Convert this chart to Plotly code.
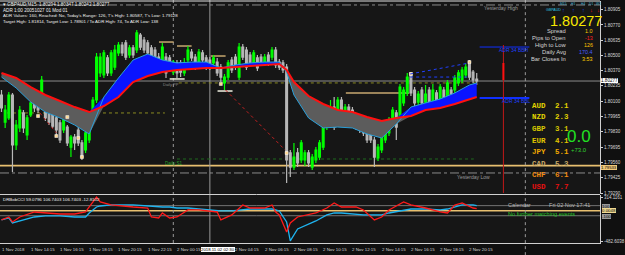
import plotly.graph_objects as go

# ---------------- data ----------------
symbol = "GBPAUD,M15"
bar_count = 131
open_ = [1.80154, 1.79916, 1.79952, 1.80154, 1.79714, 1.79864, 1.79996, 1.79802, 1.79978, 1.80136,
         1.80110, 1.80048, 1.80084, 1.80040, 1.80004, 1.79952, 1.79908, 1.79846, 1.79872, 1.79696,
         1.79784, 1.79846, 1.79732, 1.79670, 1.79758, 1.79960, 1.80110, 1.80348, 1.80330, 1.80480,
         1.80348, 1.80400, 1.80524, 1.80594, 1.80612, 1.80506, 1.80568, 1.80550, 1.80682, 1.80638,
         1.80612, 1.80568, 1.80550, 1.80488, 1.80436, 1.80488, 1.80480, 1.80356, 1.80436, 1.80436,
         1.80348, 1.80462, 1.80532, 1.80488, 1.80436, 1.80524, 1.80480, 1.80462, 1.80436, 1.80444,
         1.80400, 1.80260, 1.80312, 1.80462, 1.80488, 1.80312, 1.80576, 1.80550, 1.80506, 1.80436,
         1.80480, 1.80488, 1.80436, 1.80506, 1.80488, 1.80550, 1.80444, 1.80436, 1.80400, 1.79644,
         1.79520, 1.79644, 1.79582, 1.79582, 1.79644, 1.79520, 1.79582, 1.79608, 1.79696, 1.79872,
         1.79908, 1.80048, 1.79960, 1.80110, 1.79996, 1.80048, 1.80022, 1.79960, 1.79908, 1.79872,
         1.79872, 1.79846, 1.79758, 1.79600, 1.79670, 1.79758, 1.79820, 1.79908, 1.79996, 1.79960,
         1.80084, 1.80172, 1.80348, 1.80198, 1.80092, 1.80198, 1.80092, 1.80198, 1.80092, 1.80172,
         1.80110, 1.80198, 1.80136, 1.80198, 1.80198, 1.80260, 1.80286, 1.80330, 1.80444, 1.80356,
         1.80294]
high_ = [1.80198, 1.80066, 1.80181, 1.80172, 1.79934, 1.80057, 1.80022, 1.79978, 1.80110, 1.80154,
         1.80136, 1.80321, 1.80110, 1.80066, 1.80040, 1.79978, 1.79934, 1.79987, 1.79890, 1.79802,
         1.79811, 1.79872, 1.79758, 1.79846, 1.79960, 1.80136, 1.80524, 1.80524, 1.80550, 1.80506,
         1.80550, 1.80594, 1.80620, 1.80620, 1.80638, 1.80594, 1.80594, 1.80726, 1.80700, 1.80664,
         1.80638, 1.80594, 1.80576, 1.80524, 1.80612, 1.80524, 1.80506, 1.80462, 1.80462, 1.80462,
         1.80480, 1.80585, 1.80559, 1.80515, 1.80559, 1.80550, 1.80506, 1.80488, 1.80506, 1.80480,
         1.80427, 1.80339, 1.80462, 1.80488, 1.80515, 1.80612, 1.80603, 1.80576, 1.80532, 1.80550,
         1.80506, 1.80515, 1.80515, 1.80532, 1.80576, 1.80576, 1.80471, 1.80462, 1.80427, 1.79670,
         1.79732, 1.79688, 1.79758, 1.79670, 1.79670, 1.79635, 1.79696, 1.79758, 1.79899, 1.80022,
         1.80110, 1.80136, 1.80136, 1.80136, 1.80075, 1.80075, 1.80048, 1.79987, 1.79934, 1.79899,
         1.79899, 1.79872, 1.79784, 1.79723, 1.79811, 1.79872, 1.79960, 1.80048, 1.80022, 1.80251,
         1.80224, 1.80348, 1.80356, 1.80224, 1.80189, 1.80224, 1.80242, 1.80224, 1.80251, 1.80198,
         1.80251, 1.80224, 1.80286, 1.80224, 1.80330, 1.80374, 1.80400, 1.80427, 1.80462, 1.80374,
         1.80347]
low_ = [1.80004, 1.79864, 1.79934, 1.79476, 1.79670, 1.79828, 1.79820, 1.79758, 1.79960, 1.80004,
        1.79996, 1.80022, 1.79925, 1.79890, 1.79864, 1.79784, 1.79732, 1.79820, 1.79705, 1.79608,
        1.79670, 1.79705, 1.79582, 1.79644, 1.79732, 1.79934, 1.80084, 1.80312, 1.80304, 1.80321,
        1.80321, 1.80374, 1.80497, 1.80497, 1.80462, 1.80480, 1.80480, 1.80524, 1.80550, 1.80524,
        1.80497, 1.80462, 1.80444, 1.80356, 1.80409, 1.80304, 1.80356, 1.80330, 1.80304, 1.80312,
        1.80321, 1.80436, 1.80453, 1.80374, 1.80409, 1.80436, 1.80374, 1.80374, 1.80409, 1.80321,
        1.80268, 1.80198, 1.80286, 1.80348, 1.80374, 1.80286, 1.80462, 1.80374, 1.80409, 1.80409,
        1.80365, 1.80409, 1.80409, 1.80409, 1.80462, 1.80392, 1.80374, 1.80348, 1.79380, 1.79432,
        1.79494, 1.79520, 1.79556, 1.79529, 1.79520, 1.79494, 1.79556, 1.79582, 1.79670, 1.79846,
        1.79881, 1.79846, 1.79934, 1.79881, 1.79969, 1.79934, 1.79908, 1.79846, 1.79820, 1.79793,
        1.79732, 1.79732, 1.79520, 1.79573, 1.79644, 1.79732, 1.79793, 1.79881, 1.79758, 1.79934,
        1.80057, 1.80145, 1.80145, 1.80057, 1.80066, 1.80057, 1.80066, 1.80057, 1.80066, 1.80066,
        1.80084, 1.80084, 1.80110, 1.80110, 1.80172, 1.80233, 1.80260, 1.80304, 1.80286, 1.80260,
        1.80242]
close_ = [1.80040, 1.80022, 1.80154, 1.79714, 1.79890, 1.80022, 1.79864, 1.79952, 1.80084, 1.80040,
          1.80022, 1.80286, 1.79952, 1.79916, 1.79881, 1.79846, 1.79758, 1.79960, 1.79732, 1.79784,
          1.79732, 1.79732, 1.79608, 1.79820, 1.79934, 1.80110, 1.80488, 1.80488, 1.80524, 1.80348,
          1.80524, 1.80550, 1.80594, 1.80524, 1.80488, 1.80568, 1.80506, 1.80700, 1.80576, 1.80550,
          1.80524, 1.80488, 1.80480, 1.80400, 1.80576, 1.80348, 1.80392, 1.80444, 1.80348, 1.80356,
          1.80436, 1.80550, 1.80480, 1.80400, 1.80532, 1.80462, 1.80400, 1.80400, 1.80480, 1.80348,
          1.80312, 1.80312, 1.80436, 1.80374, 1.80400, 1.80576, 1.80488, 1.80400, 1.80436, 1.80524,
          1.80392, 1.80436, 1.80488, 1.80436, 1.80550, 1.80418, 1.80400, 1.80374, 1.79582, 1.79520,
          1.79608, 1.79556, 1.79732, 1.79644, 1.79556, 1.79608, 1.79670, 1.79732, 1.79872, 1.79996,
          1.79996, 1.79872, 1.80110, 1.79908, 1.80048, 1.79960, 1.79934, 1.79872, 1.79846, 1.79820,
          1.79758, 1.79758, 1.79608, 1.79696, 1.79784, 1.79846, 1.79934, 1.80022, 1.79872, 1.80224,
          1.80198, 1.80312, 1.80172, 1.80084, 1.80163, 1.80084, 1.80163, 1.80084, 1.80198, 1.80092,
          1.80224, 1.80110, 1.80260, 1.80136, 1.80304, 1.80348, 1.80374, 1.80400, 1.80312, 1.80286,
          1.80277]

ema_bars = [0, 4, 8, 12, 16, 20, 24, 28, 32, 36, 40, 44, 48, 52, 56, 60, 64, 68, 72, 76, 78,
            80, 84, 88, 92, 96, 100, 104, 108, 112, 116, 120, 124, 128, 130]
ema_fast = [1.80312, 1.80216, 1.80092, 1.80004, 1.79952, 1.79890, 1.79811, 1.80136, 1.80304, 1.80462,
            1.80515, 1.80462, 1.80436, 1.80444, 1.80444, 1.80392, 1.80418, 1.80436, 1.80444, 1.80444,
            1.80356, 1.80154, 1.79952, 1.79864, 1.79872, 1.79864, 1.79811, 1.79776, 1.79899, 1.80048,
            1.80084, 1.80119, 1.80172, 1.80242, 1.80260]
ema_slow = [1.80348, 1.80304, 1.80224, 1.80154, 1.80101, 1.80048, 1.80004, 1.80057, 1.80136, 1.80268,
            1.80321, 1.80356, 1.80374, 1.80383, 1.80392, 1.80392, 1.80400, 1.80409, 1.80418, 1.80427,
            1.80374, 1.80268, 1.80145, 1.80075, 1.80022, 1.80004, 1.79960, 1.79925, 1.79952, 1.79969,
            1.80022, 1.80040, 1.80075, 1.80119, 1.80136]

cci_bars = [0, 2, 3, 5, 9, 12, 16, 20, 23, 24, 26, 27, 30, 36, 40, 41, 43, 44, 46, 48, 51, 54, 59, 60, 63,
            66, 68, 72, 74, 75, 76, 78, 79, 81, 86, 89, 91, 93, 97, 99, 102, 104, 106, 110, 112, 116,
            120, 122, 124, 126, 129, 130]
cci_red = [-95, -42, -131, -42, 47, 29, 11, 11, 47, 136, 314, 225, 172, 136, 118, -42, -60, 29, -60, -42,
           83, 83, 47, -95, -6, 172, 118, 118, 172, 47, -6, -309, -149, -42, 29, 118, 207, 136, 136, 83,
           -95, -42, 83, 225, 172, 118, 47, 29, 172, 207, 118, 107]
cci_cyan = [-95, -60, -149, -113, -42, -24, -24, -42, -42, 29, 136, 154, 172, 172, 154, 154, 136, 136, 136, 118,
            118, 100, 65, 65, 65, 83, 100, 100, 100, 83, 65, -131, -469, -256, -113, -6, 29, 29, 11, -6,
            -6, -6, 29, 83, 100, 100, 83, 100, 136, 172, 172, 160]
cci_levels = [160, -20]
cci_zero_level = 70
cci_axis_vals = [314.1161, -482.6038]

price_ticks = [1.80905, 1.80770, 1.80635, 1.80500, 1.80370, 1.80235, 1.80100, 1.79965,
               1.79830, 1.79695, 1.79560, 1.79425, 1.79290]

time_tick_bars = [0, 8, 16, 24, 32, 40, 48, 64, 72, 80, 88, 96, 104, 112, 120, 128]
time_tick_labels = ["1 Nov 2018", "1 Nov 14:15", "1 Nov 16:15", "1 Nov 18:15", "1 Nov 20:15",
                    "1 Nov 22:15", "2 Nov 00:15", "2 Nov 04:15", "2 Nov 06:15", "2 Nov 08:15",
                    "2 Nov 10:15", "2 Nov 12:15", "2 Nov 14:15", "2 Nov 16:15", "2 Nov 18:15",
                    "2 Nov 20:15"]
crosshair_bar = 57
crosshair_label = "2018.11.02 02:30"
day_sep_bar = 47
panel_sep_bar = 143.3

gold_level = 1.79533
yesterday_high = 1.80946
yesterday_low = 1.79468
olive_level = 1.79996
daily_pp = 1.80260
daily_s1 = 1.79591
adr_high_level = 1.80576
adr_low_level = 1.80128

tan_seg_start = [43.1, 48.0, 57.2, 94.2]
tan_seg_end = [47.1, 52.0, 61.3, 111.5]
tan_seg_level = [1.80620, 1.80585, 1.80497, 1.80172]
white_seg_start = [46.0, 59.1]
white_seg_end = [50.1, 63.2]
white_seg_level = [1.80295, 1.80189]

marker_bars = [18, 15, 21, 22, 10, 60, 78, 112, 128]
marker_prices = [1.79960, 1.79793, 1.79776, 1.79608, 1.79969, 1.80251, 1.79644, 1.80339, 1.80444]

currencies = ["AUD", "NZD", "GBP", "EUR", "JPY", "CAD", "CHF", "USD"]
strength = [2.1, 2.3, 3.1, 4.1, 5.1, 5.3, 6.1, 7.7]

info_labels = ["Spread", "Pips to Open", "High to Low", "Daily Avg", "Bar Closes In"]
info_values = ["1.0", "-13", "126", "170.4", "3:53"]

# ---------------- figure ----------------
W, H = 625, 255
PW, PH = 604, 243          # plot area in px
FONT = "Liberation Sans"


def px(x):
    return x / PW


def py(y):
    return (PH - y) / PH


bars = list(range(bar_count))
fig = go.Figure()

upper = [max(f, s) for f, s in zip(ema_fast, ema_slow)]
lower = [min(f, s) for f, s in zip(ema_fast, ema_slow)]
fig.add_trace(go.Scatter(x=ema_bars, y=ema_slow, mode="lines", line=dict(width=0), hoverinfo="skip"))
fig.add_trace(go.Scatter(x=ema_bars, y=upper, mode="lines", line=dict(width=0), fill="tonexty",
                         fillcolor="#0a14ff", hoverinfo="skip"))
fig.add_trace(go.Scatter(x=ema_bars, y=ema_slow, mode="lines", line=dict(width=0), hoverinfo="skip"))
fig.add_trace(go.Scatter(x=ema_bars, y=lower, mode="lines", line=dict(width=0), fill="tonexty",
                         fillcolor="#5c5c5c", hoverinfo="skip"))

fig.add_trace(go.Candlestick(
    x=bars, open=open_, high=high_, low=low_, close=close_,
    increasing=dict(line=dict(color="#00ff00", width=1.2), fillcolor="#00ff00"),
    decreasing=dict(line=dict(color="#b8b8b8", width=1.2), fillcolor="#b8b8b8"),
    whiskerwidth=0, hoverinfo="skip"))

fig.add_trace(go.Scatter(x=ema_bars, y=ema_fast, mode="lines", line=dict(color="#2a9fd8", width=1)))
fig.add_trace(go.Scatter(x=ema_bars, y=ema_slow, mode="lines", line=dict(color="#ff1010", width=2)))

fig.add_trace(go.Scatter(x=marker_bars, y=marker_prices, mode="markers",
                         marker=dict(symbol="square", size=3, color="#ffd890",
                                     line=dict(color="#ffffff", width=0.5))))

# CCI panel
fig.add_trace(go.Scatter(x=cci_bars, y=cci_cyan, mode="lines", line=dict(color="#1fb4f0", width=1.3),
                         xaxis="x", yaxis="y2"))
fig.add_trace(go.Scatter(x=cci_bars, y=cci_red, mode="lines", line=dict(color="#ff1a1a", width=1.3),
                         xaxis="x", yaxis="y2"))

shapes = []


def hline(level, color, width=1, dash="solid", x0=None, x1=None, yref="y"):
    if x0 is None:
        shapes.append(dict(type="line", xref="paper", x0=0, x1=1, yref=yref, y0=level, y1=level,
                           line=dict(color=color, width=width, dash=dash), layer="below"))
    else:
        shapes.append(dict(type="line", xref="x", x0=x0, x1=x1, yref=yref, y0=level, y1=level,
                           line=dict(color=color, width=width, dash=dash), layer="below"))


hline(yesterday_high, "#8a8a8a", 1, "dashdot")
hline(yesterday_low, "#8a8a8a", 1, "dashdot")
hline(close_[-1], "#8c8c8c", 1)
hline(gold_level, "#e8c070", 1.6)
hline(olive_level, "#8a8a20", 1, "dot", 1.5, 44.7)
hline(daily_pp, "#8a8a20", 1, "dot", 48.5, 130)
hline(daily_s1, "#1f6a1f", 1, "dot", 48, 129.2)
hline(adr_high_level, "#1030ff", 1, "solid", 130.8, 144.4)
hline(adr_low_level, "#1030ff", 2, "solid", 130.8, 144.4)
for s, e, l in zip(tan_seg_start, tan_seg_end, tan_seg_level):
    hline(l, "#c8a870", 1.5, "solid", s, e)
for s, e, l in zip(white_seg_start, white_seg_end, white_seg_level):
    hline(l, "#f0f0e0", 1.5, "solid", s, e)

for lv in cci_levels:
    hline(lv, "#8a8a8a", 0.8, "solid", yref="y2")
hline(cci_zero_level, "#e8c070", 1.5, "solid", yref="y2")

# vertical lines
shapes.append(dict(type="line", xref="x", x0=day_sep_bar, x1=day_sep_bar, yref="paper", y0=0, y1=1,
                   line=dict(color="#9a9a9a", width=1, dash="dot"), layer="below"))
shapes.append(dict(type="line", xref="x", x0=crosshair_bar, x1=crosshair_bar, yref="paper", y0=0, y1=1,
                   line=dict(color="#9a9a9a", width=1), layer="below"))
shapes.append(dict(type="line", xref="x", x0=panel_sep_bar, x1=panel_sep_bar, yref="paper", y0=-0.05, y1=1,
                   line=dict(color="#9a9a9a", width=1, dash="dot"), layer="below"))
shapes.append(dict(type="line", xref="x", x0=137.3, x1=137.3, yref="y", y0=1.79292, y1=1.80594,
                   line=dict(color="#c01818", width=1)))
shapes.append(dict(type="line", xref="x", x0=137.3, x1=137.3, yref="y", y0=1.80286, y1=1.80436,
                   line=dict(color="#ff1010", width=2)))
# diagonals
shapes.append(dict(type="line", xref="x", yref="y", x0=10.5, y0=1.79996, x1=15, y1=1.79820,
                   line=dict(color="#c02020", width=1, dash="dot")))
shapes.append(dict(type="line", xref="x", yref="y", x0=61.3, y0=1.80198, x1=77.6, y1=1.79670,
                   line=dict(color="#c02020", width=1, dash="dot")))
shapes.append(dict(type="line", xref="x", yref="y", x0=111.8, y0=1.80339, x1=128, y1=1.80436,
                   line=dict(color="#2040ff", width=1, dash="dot")))
shapes.append(dict(type="line", xref="x", yref="y", x0=111.8, y0=1.80312, x1=128, y1=1.80312,
                   line=dict(color="#2040ff", width=1, dash="dot")))
# frame lines
shapes.append(dict(type="line", xref="paper", x0=0, x1=1, yref="paper", y0=py(1), y1=py(1),
                   line=dict(color="#e0e0e0", width=1)))
shapes.append(dict(type="line", xref="paper", x0=0, x1=1, yref="paper", y0=py(194.5), y1=py(194.5),
                   line=dict(color="#d0d0d0", width=1)))

fig.update_layout(shapes=shapes)


def text(x, y, s, size=5, color="#e0e0e0", xanchor="left", family=FONT, bg=None, xref="paper"):
    fig.add_annotation(x=(x if xref == "x" else px(x)), y=py(y), xref=xref, yref="paper", text=s,
                       showarrow=False, xanchor=xanchor, yanchor="middle",
                       font=dict(size=size, color=color, family=family),
                       bgcolor=bg, borderpad=0, borderwidth=0)


# top-left info
text(3, 4, "\u25be %s  %.5f %.5f %.5f %.5f" % (symbol, open_[-1], high_[-1], low_[-1], close_[-1]), 4.6, "#f0f0f0")
text(3, 10, "ADR 1:00 20051027 01 Mod 01", 4.6, "#f0f0f0")
text(3, 15.5, "ADR Values: 160, Reached: No, Today's Range: 126, T's High: 1.80587, T's Low: 1.79128", 4.4, "#f0f0f0")
text(3, 21, "Target High: 1.81814, Target Low: 1.78901 / To ADR High: 74, To ADR Low: 138", 4.4, "#f0f0f0")

# right info panel
tfs = ["M15", "H1", "H4", "D1", "W1"]
tf_x = [567, 577, 587, 595, 602]
arrows = ["\u2191", "\u2191", "\u2191", "\u2193", "\u2193"]
arrow_cols = ["#1a4cff", "#1a4cff", "#1a4cff", "#ff1a1a", "#ff1a1a"]
for t, xx, a, c in zip(tfs, tf_x, arrows, arrow_cols):
    text(xx, 4.5, t, 3.4, "#3aa8c8", "center")
    text(xx, 9.8, a, 5.5, c, "center")
text(557, 10.5, "GBPAUD", 3.6, "#30c8e8", "center")
text(606, 20.5, "%.5f" % close_[-1], 14.5, "#f8e800", "right")
info_cols = ["#ffd000", "#ff2020", "#ffc400", "#4a5cff", "#ffd000"]
for k, (lab, val, c) in enumerate(zip(info_labels, info_values, info_cols)):
    yy = 31 + k * 7
    text(570, yy, lab, 5.8, "#d4d4d4", "right")
    text(597, yy, val, 5.4, c, "right")

cur_cols = ["#e2d400", "#e2d400", "#d8c800", "#e0c400", "#f0a800", "#c8a868", "#f08a10", "#e81010"]
for k, (cname, sv, c) in enumerate(zip(currencies, strength, cur_cols)):
    yy = 105.7 + k * 11.6
    text(536, yy, "<b>%s</b>" % cname, 7.5, c, "left", "Liberation Mono")
    text(559, yy, "<b>%.1f</b>" % sv, 7.5, c, "left", "Liberation Mono")
text(583, 136, "0.0", 17, "#22e022", "center")
text(583, 150, "+73.0", 6, "#30d030", "center")

# ADR labels, level labels
text(502, 50, "ADR 34 BBH", 5, "#2040ff")
text(505, 101, "ADR 34 BBL", 5, "#2040ff")
text(487, 8, "Yesterday High", 5, "#9a9a9a")
text(460, 177, "Yesterday Low", 5, "#9a9a9a")
text(166, 163, "Daily S1", 4.6, "#28a028")
text(164, 84.5, "Daily PP", 4, "#8a8a8a")

# calendar
text(511, 205, "Calendar", 5.6, "#b4b4b4")
text(553, 205, "Fri 02 Nov 17:41", 5.6, "#b4b4b4")
text(511, 214, "No further matching events", 5.6, "#22c022")

# CCI label
text(3, 199.5, "DRBobCCI 59.0796 106.7403 106.7403 -12.8102", 4.4, "#f0f0f0")

# axis boxes
text(605, 80.5, "%.5f" % close_[-1], 4.6, "#000000", "left", bg="#ffffff")
text(605, 167, "%.5f" % gold_level, 4.2, "#000000", "left", bg="#f0c878")
text(606, 206, "100", 4.4, "#000000", "left", bg="#9a9a9a")
text(606, 210.8, "0.0048", 4.4, "#000000", "left", bg="#f0d890")
text(606, 216, "-100", 4.4, "#000000", "left", bg="#9a9a9a")

# time labels
for b, lab in zip(time_tick_bars, time_tick_labels):
    text(b, 249, lab, 4.4, "#d4d4d4", "left", xref="x")
text(202.5, 249, crosshair_label, 4.3, "#000000", "left", bg="#ffffff")

fig.update_layout(
    width=W, height=H,
    margin=dict(l=0, r=W - PW, t=0, b=H - PH),
    paper_bgcolor="#101010", plot_bgcolor="#161616",
    showlegend=False,
    xaxis=dict(domain=[0, 1], range=[-0.41, (PW - 1.5) / 3.68], showticklabels=False, ticks="",
               showgrid=False, zeroline=False, anchor="y2", showline=True, linecolor="#d0d0d0",
               linewidth=1, rangeslider=dict(visible=False), fixedrange=True),
    yaxis=dict(domain=[py(194), py(1)], range=[1.79283, 1.80981], side="right", anchor="x",
               tickvals=price_ticks, ticktext=["%.5f" % v for v in price_ticks],
               ticks="outside", ticklen=2, tickcolor="#d0d0d0",
               tickfont=dict(size=4.5, color="#d8d8d8", family=FONT),
               showgrid=False, zeroline=False, showline=True, linecolor="#d0d0d0", linewidth=1),
    yaxis2=dict(domain=[0, py(195)], range=[-505.8, 349.7], side="right", anchor="x",
                tickvals=cci_axis_vals, ticktext=["%.4f" % v for v in cci_axis_vals],
                ticks="outside", ticklen=2, tickcolor="#d0d0d0",
                tickfont=dict(size=4.5, color="#d8d8d8", family=FONT),
                showgrid=False, zeroline=False, showline=True, linecolor="#d0d0d0", linewidth=1),
)

fig.write_html("out.html")
